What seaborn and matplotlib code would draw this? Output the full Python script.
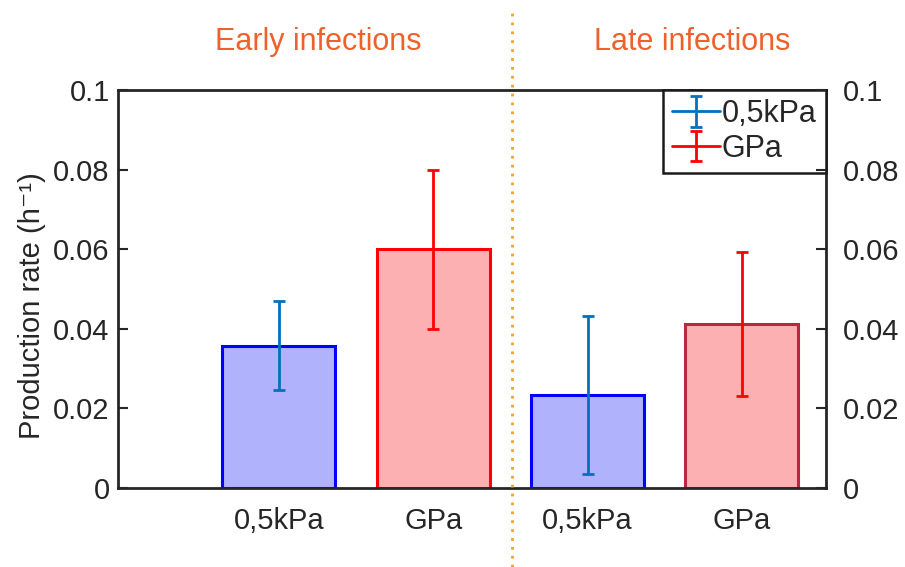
import matplotlib
matplotlib.use("Agg")
import matplotlib.pyplot as plt
from matplotlib.lines import Line2D
import seaborn as sns
import pandas as pd
import numpy as np

# ---- data ----
conditions = ["Early 0,5kPa", "Early GPa", "Late 0,5kPa", "Late GPa"]
tick_labels = ["0,5kPa", "GPa", "0,5kPa", "GPa"]
rates = [0.0358, 0.0600, 0.0234, 0.0411]
errors = [0.0113, 0.0200, 0.0198, 0.0181]
materials = ["0,5kPa", "GPa", "0,5kPa", "GPa"]
legend_labels = ["0,5kPa", "GPa"]
group_titles = ["Early infections", "Late infections"]
yticks = [0, 0.02, 0.04, 0.06, 0.08, 0.1]
ytick_labels = ["0", "0.02", "0.04", "0.06", "0.08", "0.1"]

face_colors = ["#b0b2fb", "#fdb0b2", "#b0b2fb", "#fdb0b2"]
edge_colors = ["#0000ff", "#ff0000", "#0000ff", "#b8283e"]
err_colors = {"0,5kPa": "#0072bd", "GPa": "#ff0000"}

df = pd.DataFrame({"condition": conditions, "rate": rates})

sns.set_theme(style="white")
plt.rcParams["font.family"] = ["Liberation Sans", "DejaVu Sans"]

fig = plt.figure(figsize=(9.05, 5.67), dpi=100)
ax = fig.add_axes([118 / 905, 1 - 488 / 567, 708 / 905, 398 / 567])

sns.barplot(data=df, x="condition", y="rate", hue="condition",
            palette=face_colors, legend=False, errorbar=None,
            width=0.732, ax=ax, order=conditions, hue_order=conditions)

for patch, fc, ec in zip(ax.patches, face_colors, edge_colors):
    patch.set_facecolor(fc)
    patch.set_edgecolor(ec)
    patch.set_linewidth(2.2)
    patch.set_alpha(None)

xs = list(range(len(conditions)))
for mat in legend_labels:
    idx = [i for i, m in enumerate(materials) if m == mat]
    ax.errorbar([xs[i] for i in idx], [rates[i] for i in idx],
                yerr=[errors[i] for i in idx], fmt="none",
                ecolor=err_colors[mat], elinewidth=2, capsize=4,
                capthick=2, zorder=5)
    # legend proxy (no visible data): line + vertical error bar with caps
    ax.errorbar([np.nan], [np.nan], yerr=[0.01], fmt="-",
                color=err_colors[mat], lw=2, elinewidth=2, capsize=4,
                capthick=2, label=mat)

ax.set_xlim(-1.042, 3.545)
ax.set_ylim(0, 0.1)
ax.set_xticks(xs)
ax.set_xticklabels(tick_labels, fontsize=21, color="#1a1a1a")
ax.set_yticks(yticks)
ax.set_yticklabels(ytick_labels, fontsize=21, color="#262626")
ax.set_xlabel("")
ax.set_ylabel("Production rate (h⁻¹)", fontsize=21, color="#262626")
ax.yaxis.set_label_coords(-0.1017, 0.457)

ax.tick_params(axis="y", direction="in", length=7, width=1.5,
               colors="#262626", pad=6, labelcolor="#262626")
ax.tick_params(axis="x", direction="in", length=3, width=1.5,
               colors="#262626", pad=14)

for s in ax.spines.values():
    s.set_visible(True)
    s.set_color("#262626")
    s.set_linewidth(2)

ax2 = ax.twinx()
ax2.set_ylim(0, 0.1)
ax2.set_yticks(yticks)
ax2.set_yticklabels(ytick_labels, fontsize=21, color="#262626")
ax2.tick_params(axis="y", direction="in", length=7, width=1.5,
                colors="#262626", pad=12, labelcolor="#262626")
for s in ax2.spines.values():
    s.set_visible(False)

leg = ax.legend(loc="upper right", fontsize=22, frameon=True,
                fancybox=False, edgecolor="#1a1a1a", borderaxespad=0,
                handlelength=1.55, handletextpad=0.08, borderpad=0.3,
                labelspacing=0.15, framealpha=1)
leg.get_frame().set_linewidth(1.8)
leg.set_zorder(10)

# group titles and separator
title_color = "#f0602a"
fig.text(318 / 905, 1 - 42 / 567, group_titles[0], ha="center", va="center",
         fontsize=22, color=title_color)
fig.text(692 / 905, 1 - 42 / 567, group_titles[1], ha="center", va="center",
         fontsize=22, color=title_color)
fig.add_artist(Line2D([512 / 905, 512 / 905], [0.0, 1 - 8 / 567],
                      transform=fig.transFigure, color="#f5a030",
                      linestyle=(0, (1, 2.2)), linewidth=2))

fig.savefig("out.png", dpi=100)
